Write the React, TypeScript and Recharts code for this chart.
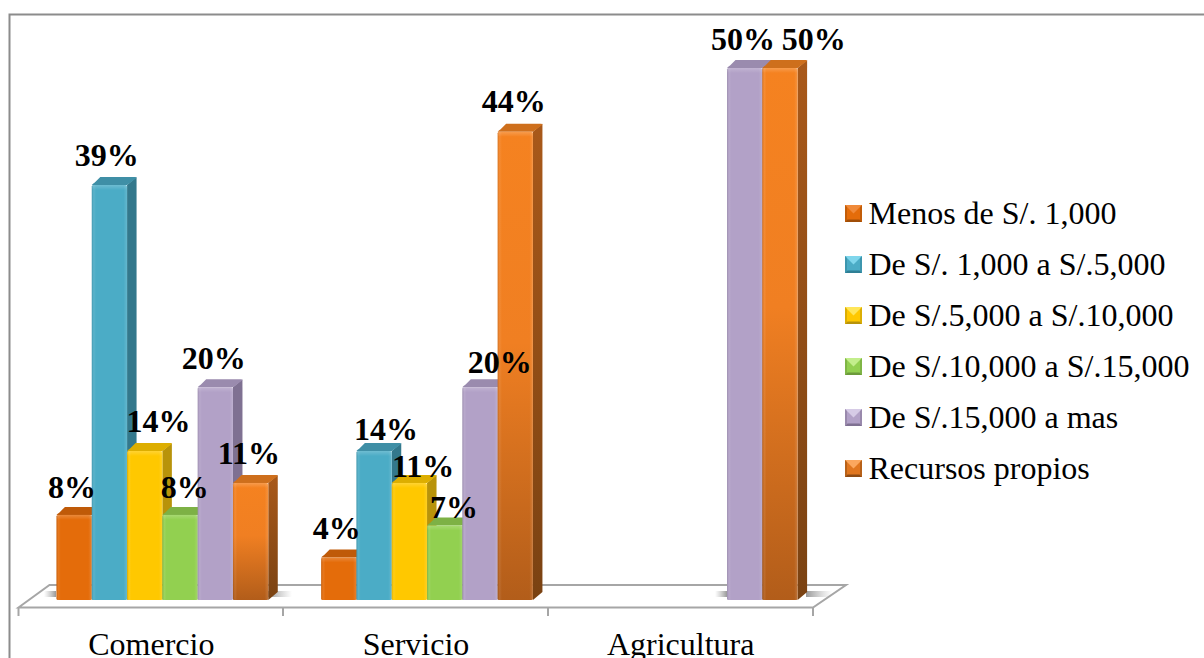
import React from "react";
import { BarChart, Bar, XAxis, YAxis, Legend, Customized } from "recharts";

const categories = ["Comercio", "Servicio", "Agricultura"];
const seriesNames = [
  "Menos de S/. 1,000",
  "De S/. 1,000 a S/.5,000",
  "De S/.5,000 a S/.10,000",
  "De S/.10,000 a S/.15,000",
  "De S/.15,000 a mas",
  "Recursos propios",
];
const menosDe1000 = [8, 4, null];
const de1000a5000 = [39, 14, null];
const de5000a10000 = [14, 11, null];
const de10000a15000 = [8, 7, null];
const de15000aMas = [20, 20, 50];
const recursosPropios = [11, 44, 50];
const seriesValues = [menosDe1000, de1000a5000, de5000a10000, de10000a15000, de15000aMas, recursosPropios];

const chartData = categories.map((name, c) => {
  const row: Record<string, any> = { name };
  seriesNames.forEach((s, i) => (row[s] = seriesValues[i][c]));
  return row;
});

// Styles
const FONT = '"Liberation Serif", serif';
const GRID = "#a6a6a6";
const palette = [
  { front: "#E46C0A", top: "#BF5A08", side: "#A55007", hi: "#F08A3A", lo: "#A04E08" },
  { front: "#4BACC6", top: "#3F8FA6", side: "#33788C", hi: "#7FD6EC", lo: "#2F7F95" },
  { front: "#FFC800", top: "#DDAE00", side: "#B8930A", hi: "#FFE65A", lo: "#B8930A" },
  { front: "#92D050", top: "#7DB145", side: "#6C9A3B", hi: "#C3EE8C", lo: "#6C9A3B" },
  { front: "#B2A1C7", top: "#9A8BAE", side: "#7F7192", hi: "#D6CBE6", lo: "#7F7192" },
  { front: "url(#recursosFront)", top: "#CE6F1C", side: "url(#recursosSide)", hi: "#FBA75E", lo: "#8E4B14" },
];
const legendBase = ["#E46C0A", "#4BACC6", "#FFC800", "#92D050", "#B2A1C7", "#E0761F"];

// Hand-placed label offsets of the source: [dx from bar centre, baseline above bar top]
const labelNudges = [
  [[-2, 17], [-2, 18], null],
  [[-2.5, 19], [12, 11], null],
  [[14, 19], [14, 6], null],
  [[5, 17], [9.5, 8], null],
  [[-1.5, 18], [20, 14], [-1.5, 18]],
  [[-1.5, 19], [-1.5, 20], [34, 18]],
];

const DX = 9.5;
const DY = 8;

const bar3D = (si: number) => (props: any) => {
  const { x, y, height } = props;
  if (props.value == null || !height) return <g />;
  const width = props.width + 0.3;
  const c = palette[si];
  const r = x + width;
  const b = y + height;
  return (
    <g>
      <path d={`M${r} ${y}L${r + DX} ${y - DY}L${r + DX} ${b - DY}L${r} ${b}Z`} fill={c.side} />
      <path
        d={`M${x} ${y}Q${x + 1} ${y - 1.5} ${x + 3} ${y - 2.5}L${x + DX - 1} ${y - DY}L${r + DX - 1} ${y - DY}L${r + DX} ${y - DY + 1}L${r} ${y}Z`}
        fill={c.top}
      />
      <rect x={x} y={y} width={width} height={height} rx={1.5} fill={c.front} />
      <rect x={x} y={y} width={width} height={height} rx={1.5} fill="url(#bevelH)" />
      <rect x={x} y={y} width={width} height={Math.min(5, height)} fill="url(#bevelV)" />
    </g>
  );
};

const barLabel = (si: number) => (props: any) => {
  const { x, y, width, value, index } = props;
  const n = labelNudges[si][index];
  if (value == null || !n) return null;
  return (
    <text x={x + width / 2 + n[0]} y={y - n[1]} textAnchor="middle" fontFamily={FONT} fontSize={32} fontWeight="bold" fill="#000">
      {value}%
    </text>
  );
};

const CategoryTick = (props: any) => (
  <text x={props.x - 11} y={655} textAnchor="middle" fontFamily={FONT} fontSize={32} fill="#000">
    {props.payload.value}
  </text>
);

const floorTicks = [18.5, 283, 548, 813];
const shadows = [
  [44, 12, 1], [268, 24, -1], [715, 12, 1], [806, 26, -1],
];

const Furniture = () => (
  <g>
    <defs>
      <linearGradient id="recursosFront" x1="0" y1="0" x2="0" y2="1">
        <stop offset="0" stopColor="#F58220" />
        <stop offset="0.45" stopColor="#F07F22" />
        <stop offset="1" stopColor="#B25D1A" />
      </linearGradient>
      <linearGradient id="recursosSide" x1="0" y1="0" x2="0" y2="1">
        <stop offset="0" stopColor="#A9591A" />
        <stop offset="1" stopColor="#7A4212" />
      </linearGradient>
      <linearGradient id="bevelH" x1="0" y1="0" x2="1" y2="0">
        <stop offset="0" stopColor="#000" stopOpacity="0.12" />
        <stop offset="0.06" stopColor="#fff" stopOpacity="0.08" />
        <stop offset="0.12" stopColor="#fff" stopOpacity="0" />
        <stop offset="0.9" stopColor="#fff" stopOpacity="0" />
        <stop offset="1" stopColor="#fff" stopOpacity="0.14" />
      </linearGradient>
      <linearGradient id="bevelV" x1="0" y1="0" x2="0" y2="1">
        <stop offset="0" stopColor="#fff" stopOpacity="0.2" />
        <stop offset="1" stopColor="#fff" stopOpacity="0" />
      </linearGradient>
      <linearGradient id="shadowR" x1="0" y1="0" x2="1" y2="0">
        <stop offset="0" stopColor="#777" stopOpacity="0.75" />
        <stop offset="1" stopColor="#999" stopOpacity="0" />
      </linearGradient>
      <linearGradient id="shadowL" x1="0" y1="0" x2="1" y2="0">
        <stop offset="0" stopColor="#999" stopOpacity="0" />
        <stop offset="1" stopColor="#777" stopOpacity="0.75" />
      </linearGradient>
    </defs>
    <rect x={9.5} y={14.5} width={1300} height={760} fill="#fff" stroke="#8c8c8c" strokeWidth={2} />
    <path d="M18.5 607.5L49.5 585L846 585L813 607.5Z" fill="#fff" stroke={GRID} strokeWidth={2} strokeLinejoin="miter" />
    {floorTicks.map((t) => (
      <line key={t} x1={t} x2={t} y1={607.5} y2={616} stroke={GRID} strokeWidth={2} />
    ))}
    {shadows.map(([sx, w, dir]) => (
      <rect key={sx} x={sx} y={591} width={w} height={6} fill={dir > 0 ? "url(#shadowL)" : "url(#shadowR)"} />
    ))}
  </g>
);

const Marker = ({ i }: { i: number }) => {
  const c = palette[i];
  return (
    <svg width={17} height={17} style={{ position: "absolute", left: 0, top: 17 }}>
      <rect width={17} height={17} fill={legendBase[i]} />
      <polygon points="0,0 17,0 8.5,8.5" fill={c.hi} />
      <polygon points="0,17 17,17 14.5,14.5 2.5,14.5" fill={c.lo} />
      <polygon points="0,0 2,2 2,15 0,17" fill={c.lo} opacity={0.5} />
      <polygon points="17,0 15,2 15,15 17,17" fill={c.lo} opacity={0.5} />
    </svg>
  );
};

const renderLegend = () => (
  <div style={{ fontFamily: FONT, fontSize: 32, color: "#000" }}>
    {seriesNames.map((s, i) => (
      <div key={s} style={{ position: "relative", height: 51, lineHeight: "51px", paddingLeft: 23.5, whiteSpace: "nowrap" }}>
        <Marker i={i} />
        {s}
      </div>
    ))}
  </div>
);

export default function App() {
  return (
    <div style={{ position: "absolute", left: 0, top: 0, width: 1204, height: 658, overflow: "hidden", background: "#fff" }}>
      <BarChart
        width={1204}
        height={658}
        data={chartData}
        margin={{ top: 68, right: 380, bottom: 0, left: 30 }}
        barCategoryGap="10%"
        barGap={0.3}
      >
        <Customized component={Furniture} />
        <XAxis dataKey="name" height={58} axisLine={false} tickLine={false} tick={CategoryTick} interval={0} />
        <YAxis domain={[0, 50]} hide />
        {seriesNames.map((s, i) => (
          <Bar
            key={s}
            dataKey={s}
            fill={legendBase[i]}
            isAnimationActive={false}
            shape={bar3D(i)}
            label={barLabel(i)}
          />
        ))}
        <Legend
          layout="vertical"
          align="center"
          verticalAlign="middle"
          content={renderLegend}
          wrapperStyle={{ left: 845, top: 188, width: 359, margin: 0 }}
        />
      </BarChart>
    </div>
  );
}
